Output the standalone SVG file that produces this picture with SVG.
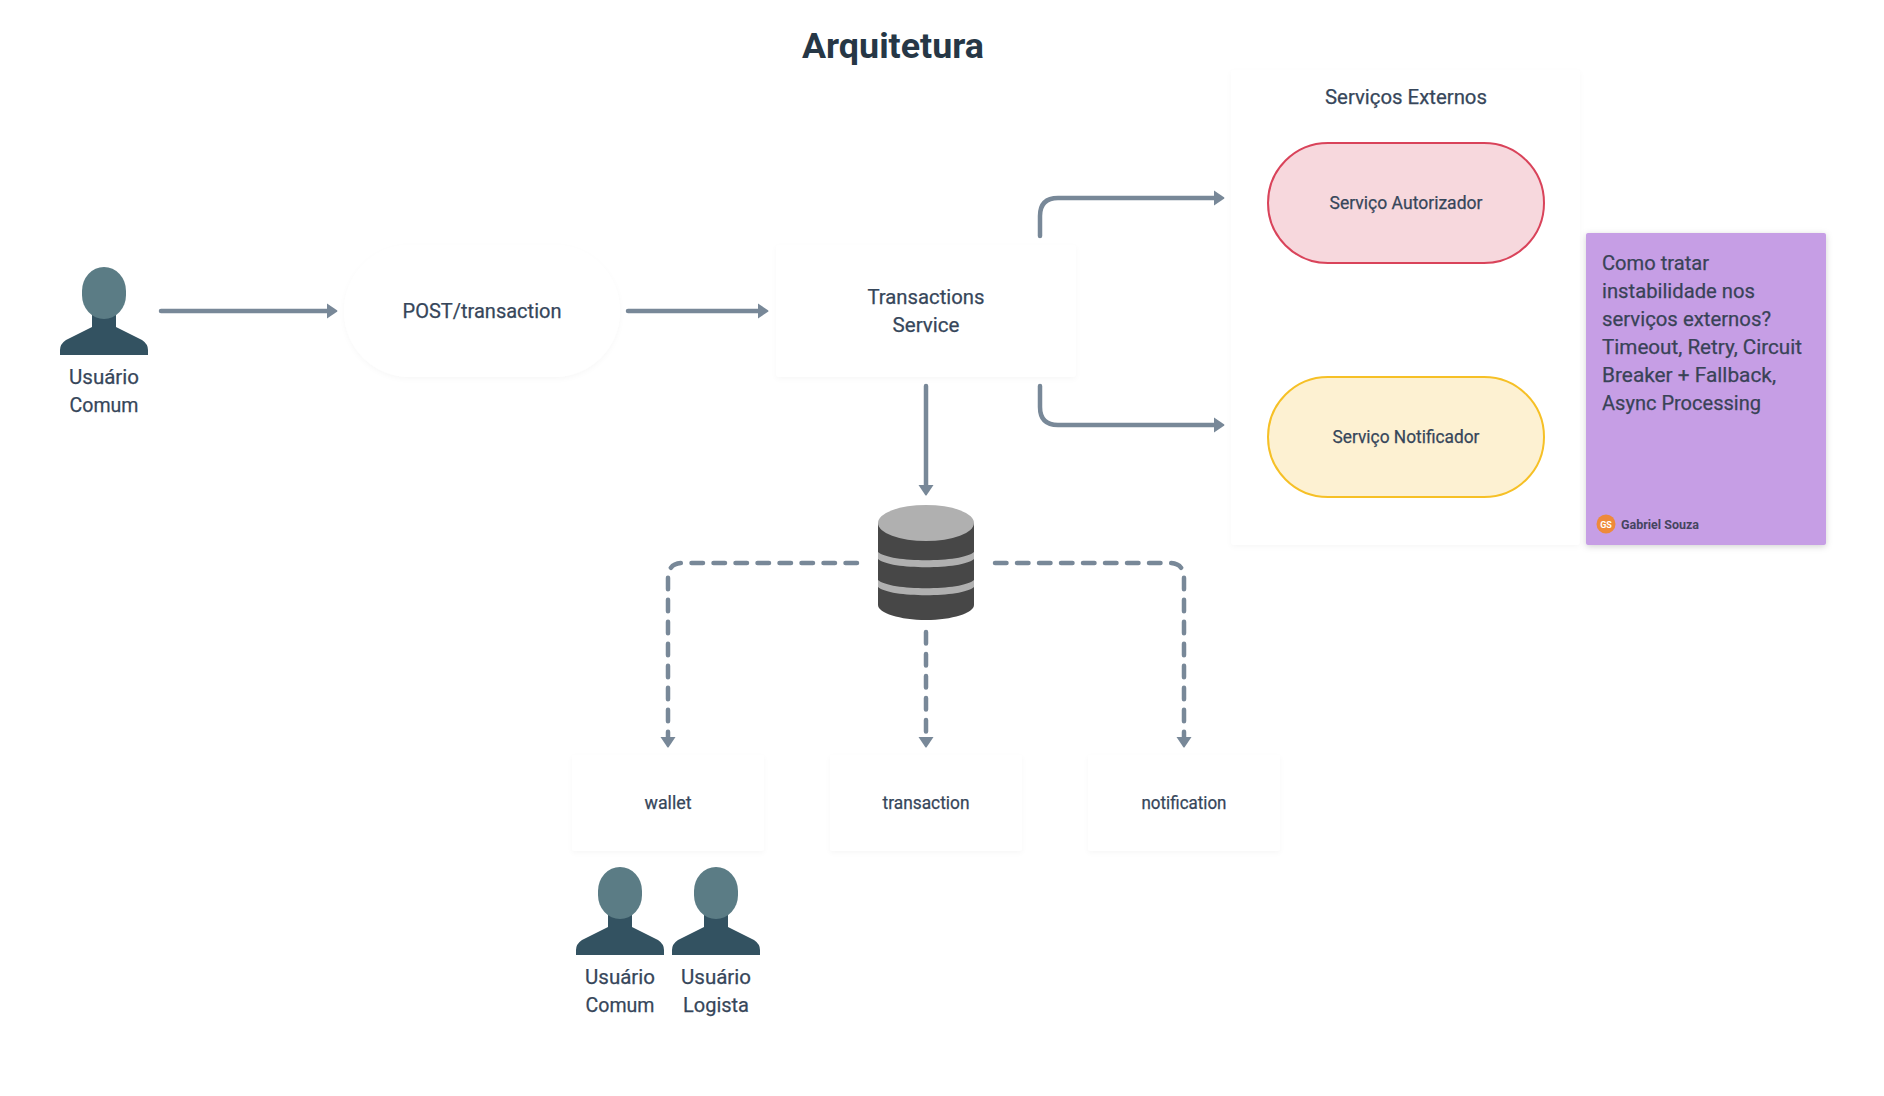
<svg xmlns="http://www.w3.org/2000/svg" xmlns:xlink="http://www.w3.org/1999/xlink" width="1884" height="1096" viewBox="0 0 1884 1096">
<style>
text{font-family:Roboto,"Liberation Sans",sans-serif;fill:#36465a;text-anchor:middle}
.l,.s,.n{stroke:#36465a;stroke-width:.25px}
.l{font-size:21px}
.s{font-size:18px}
.n{font-size:21px;text-anchor:start;fill:#3a4256}
.card{fill:#fff;filter:url(#soft)}
.c{fill:none;stroke:#788898;stroke-width:4.5;stroke-linecap:round}
.d{stroke-dasharray:11.5 10.5}
</style>
<defs>
<filter id="soft" x="-10%" y="-10%" width="120%" height="125%"><feDropShadow dx="0" dy="2" stdDeviation="2.5" flood-color="#000" flood-opacity="0.03"/></filter>
<filter id="note" x="-5%" y="-5%" width="110%" height="110%"><feDropShadow dx="0" dy="1.5" stdDeviation="3" flood-color="#000" flood-opacity="0.18"/></filter>
<marker id="a" markerUnits="userSpaceOnUse" markerWidth="13" markerHeight="18" refX="1" refY="9" orient="auto"><path d="M1 1.5L11 8.2Q12 9 11 9.8L1 16.5Z" fill="#788898"/></marker>
<g id="person">
<path d="M-12 40H12V60L38 73Q44 77 44 83V88H-44V83Q-44 77 -38 73L-12 60Z" fill="#335261"/>
<rect x="-22" y="0" width="44" height="52" rx="22" ry="24" fill="#5b7c85"/>
</g>
</defs>
<rect width="1884" height="1096" fill="#fff"/>
<text x="893" y="58" style="font-size:35px;font-weight:700;fill:#263746" textLength="182" lengthAdjust="spacingAndGlyphs">Arquitetura</text>

<g id="group-externos">
<rect class="card" x="1231" y="70" width="349" height="475" rx="4"/>
<text class="l" x="1406" y="104" textLength="162" lengthAdjust="spacingAndGlyphs">Serviços Externos</text>
</g>
<g id="user-1">
<use href="#person" x="104" y="267"/>
<text class="l" x="104" y="384" textLength="70" lengthAdjust="spacingAndGlyphs">Usuário</text>
<text class="l" x="104" y="412" textLength="69" lengthAdjust="spacingAndGlyphs">Comum</text>
</g>
<g id="post">
<rect class="card" x="344" y="245" width="276" height="132" rx="66"/>
<text class="l" x="482" y="318" textLength="159" lengthAdjust="spacingAndGlyphs">POST/transaction</text>
</g>
<g id="transactions-service">
<rect class="card" x="776" y="245" width="300" height="132" rx="4"/>
<text class="l" x="926" y="304" textLength="117" lengthAdjust="spacingAndGlyphs">Transactions</text>
<text class="l" x="926" y="332" textLength="67" lengthAdjust="spacingAndGlyphs">Service</text>
</g>
<g id="autorizador">
<rect x="1268" y="143" width="276" height="120" rx="60" fill="#f7d8dd" stroke="#d9435a" stroke-width="2"/>
<text class="s" x="1406" y="209" textLength="153" lengthAdjust="spacingAndGlyphs">Serviço Autorizador</text>
</g>
<g id="notificador">
<rect x="1268" y="377" width="276" height="120" rx="60" fill="#fdf1d2" stroke="#f6c026" stroke-width="2"/>
<text class="s" x="1406" y="443" textLength="147" lengthAdjust="spacingAndGlyphs">Serviço Notificador</text>
</g>
<g id="sticky-note">
<rect x="1586" y="233" width="240" height="312" rx="2" fill="#c69ee5" filter="url(#note)"/>
<text class="n" x="1602" y="270" textLength="107" lengthAdjust="spacingAndGlyphs">Como tratar</text>
<text class="n" x="1602" y="298" textLength="153" lengthAdjust="spacingAndGlyphs">instabilidade nos</text>
<text class="n" x="1602" y="326" textLength="169" lengthAdjust="spacingAndGlyphs">serviços externos?</text>
<text class="n" x="1602" y="354" textLength="200" lengthAdjust="spacingAndGlyphs">Timeout, Retry, Circuit</text>
<text class="n" x="1602" y="382" textLength="174" lengthAdjust="spacingAndGlyphs">Breaker + Fallback,</text>
<text class="n" x="1602" y="410" textLength="159" lengthAdjust="spacingAndGlyphs">Async Processing</text>
<circle cx="1606" cy="524" r="9.5" fill="#ee8a3a"/>
<text x="1606" y="527.5" style="font-size:9px;font-weight:700;fill:#fff">GS</text>
<text x="1621" y="528.5" style="font-size:13px;font-weight:700;text-anchor:start;fill:#45455f" textLength="78" lengthAdjust="spacingAndGlyphs">Gabriel Souza</text>
</g>
<g id="database">
<path d="M878 523V605C878 613 900 620 926 620S974 613 974 605V523Z" fill="#474747"/>
<ellipse cx="926" cy="523" rx="48" ry="18" fill="#b0b0b0"/>
<path d="M878 552C890 563 962 563 974 552V559C962 570 890 570 878 559Z" fill="#b0b0b0"/>
<path d="M878 580C890 591 962 591 974 580V587C962 598 890 598 878 587Z" fill="#b0b0b0"/>
</g>
<g id="wallet">
<rect class="card" x="572" y="755" width="192" height="96" rx="3"/>
<text class="s" x="668" y="809" textLength="47" lengthAdjust="spacingAndGlyphs">wallet</text>
</g>
<g id="transaction">
<rect class="card" x="830" y="755" width="192" height="96" rx="3"/>
<text class="s" x="926" y="809" textLength="87" lengthAdjust="spacingAndGlyphs">transaction</text>
</g>
<g id="notification">
<rect class="card" x="1088" y="755" width="192" height="96" rx="3"/>
<text class="s" x="1184" y="809" textLength="85" lengthAdjust="spacingAndGlyphs">notification</text>
</g>
<g id="user-2">
<use href="#person" x="620" y="867"/>
<text class="l" x="620" y="984" textLength="70" lengthAdjust="spacingAndGlyphs">Usuário</text>
<text class="l" x="620" y="1012" textLength="69" lengthAdjust="spacingAndGlyphs">Comum</text>
</g>
<g id="user-3">
<use href="#person" x="716" y="867"/>
<text class="l" x="716" y="984" textLength="70" lengthAdjust="spacingAndGlyphs">Usuário</text>
<text class="l" x="716" y="1012" textLength="66" lengthAdjust="spacingAndGlyphs">Logista</text>
</g>
<g id="connectors">
<path class="c" d="M161 311H327" marker-end="url(#a)"/>
<path class="c" d="M628 311H758" marker-end="url(#a)"/>
<path class="c" d="M1040 236V216Q1040 198 1058 198H1214" marker-end="url(#a)"/>
<path class="c" d="M1040 386V407Q1040 425 1058 425H1214" marker-end="url(#a)"/>
<path class="c" d="M926 386V485" marker-end="url(#a)"/>
<path class="c d" d="M857 563H683Q668 563 668 578V737" marker-end="url(#a)"/>
<path class="c d" d="M926 632V737" marker-end="url(#a)"/>
<path class="c d" d="M995 563H1169Q1184 563 1184 578V737" marker-end="url(#a)"/>
</g>
</svg>
